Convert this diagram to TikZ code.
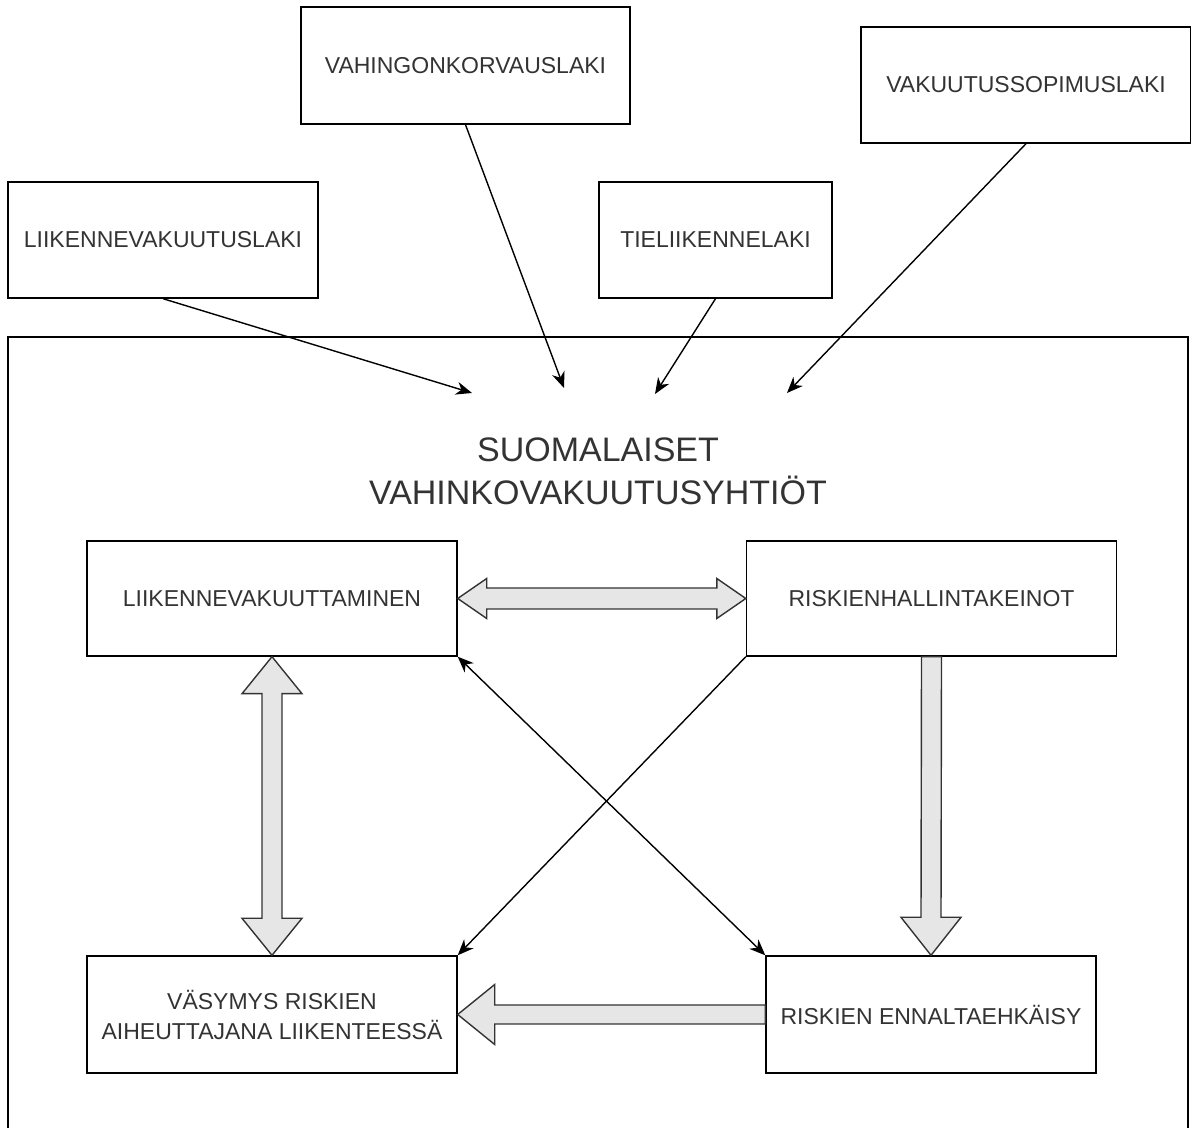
\documentclass[tikz,border=0pt]{standalone}
\usepackage{fontspec}
\setmainfont{Liberation Sans}
\usetikzlibrary{arrows.meta,calc}
\definecolor{txtgray}{HTML}{333333}
\definecolor{arrowfill}{HTML}{E6E6E6}

\begin{document}
\begin{tikzpicture}[x=1pt,y=1pt,
  box/.style={draw,line width=1.4pt,fill=white,text=txtgray,align=center,
    inner sep=0pt,font=\fontsize{23}{30}\selectfont},
  tip/.tip={Stealth[length=16pt,width=13pt,inset=5pt]},
  thin/.style={line width=1.4pt,-tip},
  blockarrow/.style={draw=txtgray,line width=1.4pt,fill=arrowfill,line join=miter}]
\useasboundingbox (0,0) rectangle (1191,1127);
\clip (0,0) rectangle (1191,1127);

% outer frame, open at the bottom
\draw[line width=1.4pt] (8,-20) rectangle (1188,790);

% laws
\node[box,minimum width=329,minimum height=117] (vahinko) at (465.5,1061.5) {VAHINGONKORVAUSLAKI};
\node[box,minimum width=330,minimum height=116] (sopimus) at (1026,1042) {VAKUUTUSSOPIMUSLAKI};
\node[box,minimum width=310,minimum height=116] (liiklaki) at (163,887) {LIIKENNEVAKUUTUSLAKI};
\node[box,minimum width=233,minimum height=116] (tielaki) at (715.5,887) {TIELIIKENNELAKI};

\node[text=txtgray,align=center,font=\fontsize{34}{43}\selectfont] (yhtiot) at (598,656)
  {SUOMALAISET\\VAHINKOVAKUUTUSYHTIÖT};

\coordinate (t1) at (472,734);
\coordinate (t2) at (564,739);
\coordinate (t3) at (655,733);
\coordinate (t4) at (787,734);
\draw[thin] (liiklaki.south) -- (t1);
\draw[thin] (vahinko.south) -- (t2);
\draw[thin] (tielaki.south) -- (t3);
\draw[thin] (sopimus.south) -- (t4);

% inner boxes
\node[box,minimum width=370,minimum height=115] (vakuuttaminen) at (272,528.5) {LIIKENNEVAKUUTTAMINEN};
\node[box,minimum width=370,minimum height=115] (keinot) at (931.5,528.5) {RISKIENHALLINTAKEINOT};
\node[box,minimum width=370,minimum height=117] (vasymys) at (272,112.5) {VÄSYMYS RISKIEN\\AIHEUTTAJANA LIIKENTEESSÄ};
\node[box,minimum width=330,minimum height=117] (ehkaisy) at (931,112.5) {RISKIEN ENNALTAEHKÄISY};

% block arrows
\draw[blockarrow] (vakuuttaminen.east) -- ($(vakuuttaminen.east)+(29,20)$) -- ($(vakuuttaminen.east)+(29,10.5)$)
  -- ($(keinot.west)+(-29,10.5)$) -- ($(keinot.west)+(-29,20)$) -- (keinot.west)
  -- ($(keinot.west)+(-29,-20)$) -- ($(keinot.west)+(-29,-10.5)$)
  -- ($(vakuuttaminen.east)+(29,-10.5)$) -- ($(vakuuttaminen.east)+(29,-20)$) -- cycle;
\draw[blockarrow] (vakuuttaminen.south) -- ($(vakuuttaminen.south)+(30,-37)$) -- ($(vakuuttaminen.south)+(10,-37)$)
  -- ($(vasymys.north)+(10,37)$) -- ($(vasymys.north)+(30,37)$) -- (vasymys.north)
  -- ($(vasymys.north)+(-30,37)$) -- ($(vasymys.north)+(-10,37)$)
  -- ($(vakuuttaminen.south)+(-10,-37)$) -- ($(vakuuttaminen.south)+(-30,-37)$) -- cycle;
\draw[blockarrow] ($(keinot.south)+(-10,0)$) -- ($(keinot.south)+(10,0)$) -- ($(ehkaisy.north)+(10,38)$)
  -- ($(ehkaisy.north)+(30,38)$) -- (ehkaisy.north) -- ($(ehkaisy.north)+(-30,38)$)
  -- ($(ehkaisy.north)+(-10,38)$) -- cycle;
\draw[blockarrow] ($(ehkaisy.west)+(0,9.5)$) -- ($(vasymys.east)+(37,9.5)$) -- ($(vasymys.east)+(37,30)$)
  -- (vasymys.east) -- ($(vasymys.east)+(37,-30)$) -- ($(vasymys.east)+(37,-9.5)$)
  -- ($(ehkaisy.west)+(0,-9.5)$) -- cycle;

% crossing arrows
\draw[thin] (keinot.south west) -- (vasymys.north east);
\draw[thin,tip-tip] (vakuuttaminen.south east) -- (ehkaisy.north west);
\end{tikzpicture}
\end{document}
